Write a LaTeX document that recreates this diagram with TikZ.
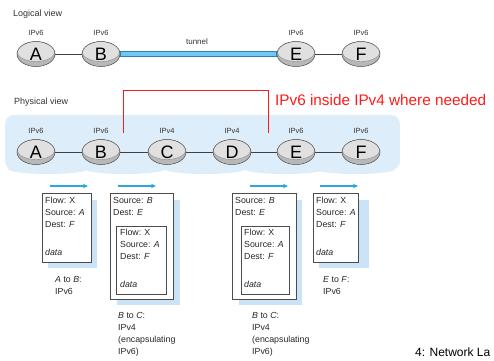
\documentclass[tikz,border=0pt]{standalone}
\usepackage{fontspec}
\setmainfont{Liberation Sans}
\usetikzlibrary{shapes.geometric,arrows.meta}
\definecolor{cloudblue}{HTML}{DDEDFA}
\definecolor{shadowblue}{HTML}{CBE3F6}
\definecolor{arrowblue}{HTML}{2AA6E0}
\definecolor{tunnelfill}{HTML}{72C8F0}
\definecolor{tunneledge}{HTML}{2E7FB5}
\definecolor{routerside}{HTML}{B8B8B8}
\definecolor{routertop}{HTML}{E0E0E0}
\definecolor{redtext}{HTML}{FF1A1A}
\newcommand\rlet[1]{\raisebox{-1.5pt}{#1}}
\tikzset{
  router/.style={ellipse, minimum width=38pt, minimum height=25pt, inner sep=0pt,
    draw=black!70, line width=0.5pt, fill=routerside,
    font=\fontsize{18}{18}\selectfont,
    path picture={\fill[routertop, draw=black!45, line width=0.4pt]
      ([yshift=2.5pt]path picture bounding box.center) ellipse [x radius=19pt, y radius=10pt];}},
  verlabel/.style={font=\fontsize{7.5}{9}\selectfont, text=black!80, inner sep=0pt},
  heading/.style={font=\fontsize{9}{11}\selectfont, text=black!80, anchor=west, inner sep=0pt},
  link/.style={draw=black!75, line width=0.8pt},
  pkttext/.style={font=\fontsize{8.8}{12}\selectfont, align=left, inner sep=0pt, anchor=north west, text=black!85},
  pktbox/.style={draw=black!70, line width=0.8pt, fill=white},
  shadow/.style={fill=shadowblue},
  flowarrow/.style={draw=arrowblue, line width=1.1pt, -{Stealth[length=5pt,width=4.5pt]}},
}
\begin{document}
\begin{tikzpicture}[x=1pt,y=-1pt]
\useasboundingbox (0,0) rectangle (494,360);
\clip (0,0) rectangle (494,360);
% ---------- logical view
\node[heading] (logv) at (13,14) {Logical view};
\node[router] (lA) at (36,54) {\rlet{A}};
\node[router] (lB) at (101,54) {\rlet{B}};
\node[router] (lE) at (296,54) {\rlet{E}};
\node[router] (lF) at (361,54) {\rlet{F}};
\foreach \n in {lA,lB,lE,lF}{\node[verlabel] at ([yshift=21pt]\n) {IPv6};}
\draw[link] (lA) -- (lB);
\draw[link] (lE) -- (lF);
\draw[line width=6pt, tunneledge] (lB.east) -- (lE.west);
\draw[line width=3.8pt, tunnelfill] ([xshift=0.5pt]lB.east) -- ([xshift=-0.5pt]lE.west);
\node[verlabel, font=\fontsize{8}{9}\selectfont] (tun) at (197,42) {tunnel};
% ---------- physical view
\node[heading] (phyv) at (14,102) {Physical view};
\fill[cloudblue, rounded corners=9pt] (5,115) rectangle (400,170);
\foreach \cx in {48,125,205,285,355}{\fill[cloudblue] (\cx,169) ellipse [x radius=40pt, y radius=5pt];}
\node[router] (A) at (36,152) {\rlet{A}};
\node[router] (B) at (101,152) {\rlet{B}};
\node[router] (C) at (167,152) {\rlet{C}};
\node[router] (D) at (232,152) {\rlet{D}};
\node[router] (E) at (296,152) {\rlet{E}};
\node[router] (F) at (361,152) {\rlet{F}};
\node[verlabel] at ([yshift=21pt]A) {IPv6};
\node[verlabel] at ([yshift=21pt]B) {IPv6};
\node[verlabel] at ([yshift=21pt]C) {IPv4};
\node[verlabel] at ([yshift=21pt]D) {IPv4};
\node[verlabel] at ([yshift=21pt]E) {IPv6};
\node[verlabel] at ([yshift=21pt]F) {IPv6};
\draw[link] (A) -- (B);
\draw[link] (B) -- (C);
\draw[link] (C) -- (D);
\draw[link] (D) -- (E);
\draw[link] (E) -- (F);
% red bracket
\coordinate (r1) at (123,133);
\coordinate (r2) at (268,90);
\coordinate (r3) at (268,133);
\draw[redtext, line width=1pt] (r1) |- (r2) -- (r3);
\node[anchor=west, inner sep=0pt, text=redtext, font=\fontsize{15.3}{17}\selectfont] (note) at (275,100) {IPv6 inside IPv4 where needed};
% ---------- flow arrows
\draw[flowarrow] (50,186) -- (88,186);
\draw[flowarrow] (118,186) -- (156,186);
\draw[flowarrow] (250,186) -- (288,186);
\draw[flowarrow] (320,186) -- (358,186);
% ---------- packet 1
\fill[shadow] (48,200) rectangle (97,268);
\draw[pktbox] (42,193) rectangle (91,262);
\node[pkttext] (p1) at (45,197) {Flow: X\\Source: \textit{A}\\Dest: \textit{F}};
\node[pkttext] (p1d) at (45,249) {\textit{data}};
\node[pkttext] (l1) at (55,276) {\textit{A} to \textit{B}:\\IPv6};
% ---------- packet 2
\fill[shadow] (117,200) rectangle (180,305);
\draw[pktbox] (110,193) rectangle (173,299);
\node[pkttext] (p2) at (113,197) {Source: \textit{B}\\Dest: \textit{E}};
\draw[pktbox] (116,226) rectangle (166,294);
\node[pkttext] (p2i) at (120,229) {Flow: X\\Source: \textit{A}\\Dest: \textit{F}};
\node[pkttext] (p2d) at (120,281) {\textit{data}};
\node[pkttext] (l2) at (118,312) {\textit{B} to \textit{C}:\\IPv4\\(encapsulating\\IPv6)};
% ---------- packet 3
\fill[shadow] (239,200) rectangle (302,305);
\draw[pktbox] (232,193) rectangle (296,299);
\node[pkttext] (p3) at (235,197) {Source: \textit{B}\\Dest: \textit{E}};
\draw[pktbox] (241,226) rectangle (289,294);
\node[pkttext] (p3i) at (244,229) {Flow: X\\Source: \textit{A}\\Dest: \textit{F}};
\node[pkttext] (p3d) at (244,281) {\textit{data}};
\node[pkttext] (l3) at (252,312) {\textit{B} to \textit{C}:\\IPv4\\(encapsulating\\IPv6)};
% ---------- packet 4
\fill[shadow] (319,200) rectangle (369,268);
\draw[pktbox] (313,193) rectangle (358,262);
\node[pkttext] (p4) at (316,197) {Flow: X\\Source: \textit{A}\\Dest: \textit{F}};
\node[pkttext] (p4d) at (316,249) {\textit{data}};
\node[pkttext] (l4) at (323,276) {\textit{E} to \textit{F}:\\IPv6};
% ---------- footer (as visible in the reference)
\node[anchor=west, inner sep=0pt, font=\fontsize{12}{14}\selectfont] (foot) at (415,352) {4: Network La};
\end{tikzpicture}
\end{document}
